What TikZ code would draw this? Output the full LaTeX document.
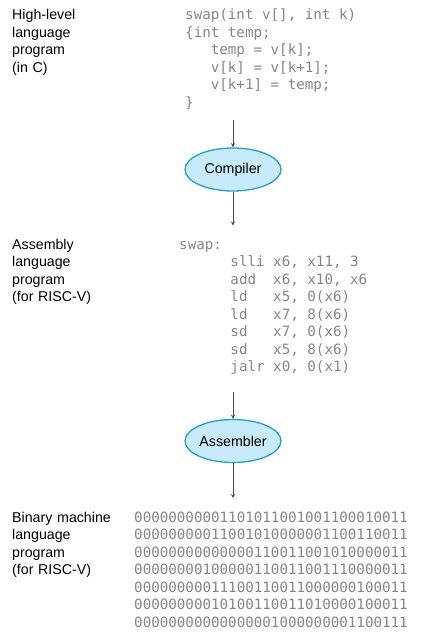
\documentclass[tikz,border=0pt]{standalone}
\usepackage{fontspec}
\setmainfont{Liberation Sans}
\setmonofont{DejaVu Sans Mono}
\usetikzlibrary{shapes.geometric,positioning}

\definecolor{codegray}{HTML}{858585}
\definecolor{toolfill}{HTML}{C7EBFA}
\definecolor{tooldraw}{HTML}{1E9FDB}
\definecolor{arrowgray}{HTML}{4D4D4D}

\newcommand\cind{\hphantom{000}}
\newcommand\asmind{\hphantom{000000}}

\begin{document}
\begin{tikzpicture}[x=1pt,y=1pt,->,>=stealth,
    label node/.style={anchor=base west,inner sep=0,text width=130pt,align=left,font=\fontsize{14.2}{17.5}\selectfont},
    code node/.style={anchor=base west,inner sep=0,text width=240pt,align=flush left,text=codegray,font=\ttfamily\fontsize{14.2}{17.5}\selectfont},
    tool node/.style={ellipse,draw=tooldraw,fill=toolfill,line width=1.3pt,minimum width=96pt,minimum height=43pt,inner sep=0,font=\fontsize{14.2}{17}\selectfont},
    flow/.style={draw=arrowgray,line width=0.9pt}]

    \useasboundingbox (0,0) rectangle (430,-639);

    % C source
    \node[label node] (hll) at (12,-20) {High-level\\language\\program\\(in C)};
    \node[code node] (ccode) at (hll.base west) [xshift=173pt]
        {swap(int v[], int k)\\\{int temp;\\\cind temp = v[k];\\\cind v[k] = v[k+1];\\\cind v[k+1] = temp;\\\}};

    \node[tool node] (comp) at (233,-169.5) {Compiler};

    % assembly
    \node[label node] (asml) at (12,-249) {Assembly\\language\\program\\(for RISC-V)};
    \node[code node] (asmcode) at (asml.base west) [xshift=167pt]
        {swap:\\
         \asmind slli x6, x11, 3\\
         \asmind add~~x6, x10, x6\\
         \asmind ld~~~x5, 0(x6)\\
         \asmind ld~~~x7, 8(x6)\\
         \asmind sd~~~x7, 0(x6)\\
         \asmind sd~~~x5, 8(x6)\\
         \asmind jalr x0, 0(x1)};

    \node[tool node] (asm) at (233,-441) {Assembler};

    % machine code
    \node[label node] (binl) at (12,-522) {Binary machine\\language\\program\\(for RISC-V)};
    \node[code node, text width=285pt] (bin) at (binl.base west) [xshift=122pt]
        {00000000001101011001001100010011\\
         00000000011001010000001100110011\\
         00000000000000110011001010000011\\
         00000000100000110011001110000011\\
         00000000011100110011000000100011\\
         00000000010100110011010000100011\\
         00000000000000001000000001100111};

    \coordinate[above=27pt of comp] (in1);
    \coordinate[below=34pt of comp] (out1);
    \coordinate[above=27pt of asm] (in2);
    \coordinate[below=35pt of asm] (out2);

    \draw[flow] (in1) -- (comp);
    \draw[flow] (comp) -- (out1);
    \draw[flow] (in2) -- (asm);
    \draw[flow] (asm) -- (out2);
\end{tikzpicture}
\end{document}
